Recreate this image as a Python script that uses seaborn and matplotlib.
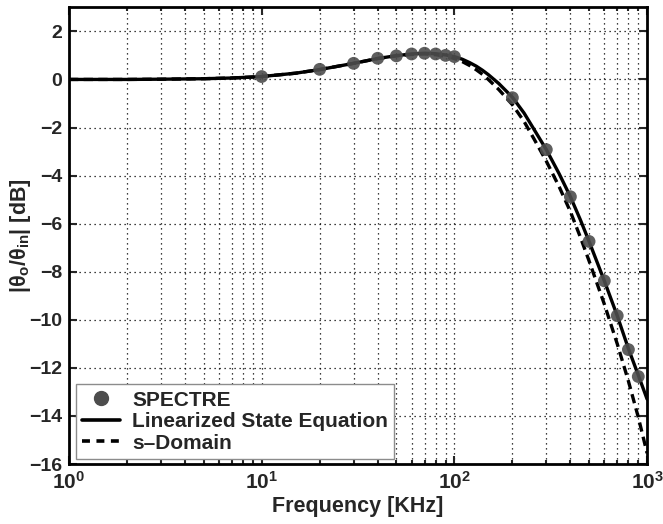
import numpy as np
import pandas as pd
import matplotlib
matplotlib.use('Agg')
import matplotlib.pyplot as plt
import seaborn as sns
from matplotlib.lines import Line2D

# Data
freq_spectre = [10, 20, 30, 40, 50, 60, 70, 80, 90, 100,
                200, 300, 400, 500, 600, 700, 800, 900]
gain_spectre = [0.12, 0.42, 0.67, 0.88, 0.98, 1.06, 1.09, 1.06, 1.00, 0.95,
                -0.76, -2.92, -4.88, -6.74, -8.38, -9.83, -11.24, -12.36]

freq_line = [1, 2, 3, 5, 7, 10, 15, 20, 30, 40, 50, 60, 70, 80, 90, 100,
             110, 120, 130, 140, 150, 170, 200, 230, 260, 300, 350, 400,
             450, 500, 600, 700, 800, 900, 1000]
gain_state = [0.0, 0.0, 0.01, 0.03, 0.06, 0.12, 0.26, 0.41, 0.67, 0.87, 0.99,
              1.06, 1.09, 1.07, 1.02, 0.95,
              0.84, 0.70, 0.55, 0.38, 0.20, -0.17, -0.74, -1.40, -2.10, -2.92,
              -3.93, -4.88, -5.83, -6.74, -8.38, -9.83, -11.2, -12.3, -13.3]
gain_sdomain = [0.0, 0.0, 0.01, 0.03, 0.06, 0.12, 0.26, 0.41, 0.67, 0.87, 0.98,
                1.04, 1.06, 1.03, 0.96, 0.87,
                0.74, 0.58, 0.40, 0.21, 0.0, -0.42, -1.05, -1.75, -2.50, -3.40,
                -4.47, -5.50, -6.55, -7.55, -9.35, -11.0, -12.55, -14.05, -15.55]

x_ticks = [1, 10, 100, 1000]
x_tick_labels = [r'$\mathbf{10^{0}}$', r'$\mathbf{10^{1}}$',
                 r'$\mathbf{10^{2}}$', r'$\mathbf{10^{3}}$']
y_ticks = [2, 0, -2, -4, -6, -8, -10, -12, -14, -16]

sns.set_style('ticks')
plt.rcParams['font.family'] = ['Liberation Sans', 'DejaVu Sans']
plt.rcParams['font.weight'] = 'bold'
plt.rcParams['mathtext.fontset'] = 'custom'
plt.rcParams['mathtext.rm'] = 'Liberation Sans:bold'
plt.rcParams['mathtext.it'] = 'Liberation Sans:bold'
plt.rcParams['mathtext.bf'] = 'Liberation Sans:bold'

fig = plt.figure(figsize=(6.63, 5.24), dpi=100)
ax = fig.add_axes([0.104, 0.1145, 0.872, 0.8715])

spectre_df = pd.DataFrame({'freq': freq_spectre, 'gain': gain_spectre})
line_df = pd.DataFrame({'freq': freq_line, 'state': gain_state, 'sdomain': gain_sdomain})

sns.lineplot(data=line_df, x='freq', y='state', ax=ax, color='black',
             linewidth=2.4, zorder=3)
sns.lineplot(data=line_df, x='freq', y='sdomain', ax=ax, color='black',
             linewidth=2.4, linestyle=(0, (2.8, 1.6)), zorder=3)
sns.scatterplot(data=spectre_df, x='freq', y='gain', ax=ax, color='#4d4d4d',
                s=85, edgecolor='none', alpha=0.9, zorder=4)

ax.set_xscale('log')
ax.set_xlim(1, 1000)
ax.set_ylim(-16, 3)
ax.set_xticks(x_ticks)
ax.set_xticklabels(x_tick_labels)
ax.set_yticks(y_ticks)
ax.set_yticklabels([str(v).replace('-', '\u2212') for v in y_ticks])

ax.grid(True, which='major', color='black', linestyle=(0, (1, 3)), linewidth=0.9)
ax.grid(True, which='minor', axis='x', color='black', linestyle=(0, (1, 3)), linewidth=0.9)

ax.tick_params(which='both', direction='in', top=True, right=True, width=1.5)
ax.tick_params(which='major', length=6, labelsize=14, pad=5)
ax.tick_params(axis='x', which='major', labelsize=15)
ax.tick_params(which='minor', length=3)
for spine in ax.spines.values():
    spine.set_linewidth(2.0)
    spine.set_color('black')

ax.set_xlabel('Frequency [KHz]', fontsize=15.5, fontweight='bold', labelpad=2)
ax.set_ylabel(r'$|\theta_o/\theta_{in}|$ [dB]', fontsize=15.5, fontweight='bold')
ax.yaxis.set_label_coords(-0.062, 0.5)

handles = [
    Line2D([], [], marker='o', linestyle='none', color='#4d4d4d', markersize=10),
    Line2D([], [], color='black', linewidth=2.6),
    Line2D([], [], color='black', linewidth=2.6, linestyle=(0, (2.2, 1.8))),
]
labels = ['SPECTRE', 'Linearized State Equation', 's\u2013Domain']
leg = ax.legend(handles, labels, loc='lower left', bbox_to_anchor=(0.012, 0.011),
                borderaxespad=0, fancybox=False, framealpha=1, edgecolor='#8c8c8c',
                prop={'size': 15, 'weight': 'bold'}, handlelength=1.8,
                handletextpad=0.6, labelspacing=0.12, borderpad=0.3)
leg.get_frame().set_linewidth(1.0)

fig.savefig('out.png', dpi=100)
